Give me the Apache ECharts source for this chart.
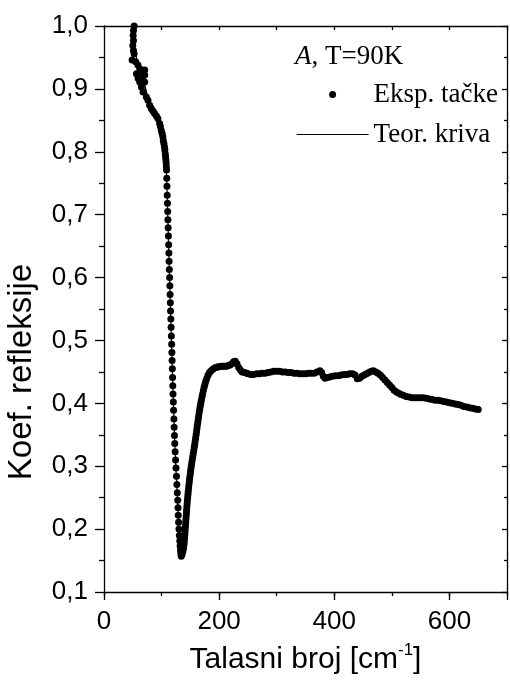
<!DOCTYPE html>
<html><head><meta charset="utf-8">
<script src="https://cdn.jsdelivr.net/npm/echarts@6/dist/echarts.min.js"></script>
<style>html,body{margin:0;padding:0;background:#fff}#c{width:510px;height:690px}</style>
</head><body><div id="c"></div>
<script>
// ---- data ----
const xTickLabels = [0, 200, 400, 600];
const yTickLabels = [0.1, 0.2, 0.3, 0.4, 0.5, 0.6, 0.7, 0.8, 0.9, 1.0];

// experimental points: top cluster
const expTop = [[52.3,1.0],[51.2,0.993],[50.6,0.985],[51.2,0.977],[50,0.969],[51.2,0.961],[52.3,0.956],[48.8,0.946],[55,0.943],[59,0.938],[62,0.932],[65,0.93],[67.8,0.927],[70.7,0.93],[56.4,0.924],[59.2,0.917],[66.7,0.919],[70.7,0.922],[62,0.911],[70.7,0.911],[65,0.903],[67.8,0.895],[73.6,0.887],[76.4,0.882],[79.3,0.874],[82,0.869],[85,0.865],[87.9,0.861],[91,0.857],[93.6,0.853],[96.6,0.845],[98,0.84],[99.5,0.834],[101,0.829],[102.2,0.824],[103,0.818],[104,0.813],[105,0.808],[105.7,0.803],[106.4,0.797],[106.9,0.792],[107.5,0.787],[108,0.782],[108.3,0.776],[108.6,0.771]];
// experimental points: steep fall
const expFall = [[109.0,0.758],[109.4,0.745],[109.8,0.731],[110.2,0.718],[110.6,0.705],[111.0,0.692],[111.4,0.679],[111.9,0.666],[112.3,0.652],[112.7,0.639],[113.1,0.626],[113.5,0.613],[114.0,0.600],[114.4,0.587],[114.8,0.573],[115.2,0.560],[115.6,0.547],[116.1,0.534],[116.5,0.521],[117.0,0.507],[117.5,0.494],[117.9,0.481],[118.3,0.468],[118.7,0.455],[119.1,0.441],[119.5,0.428],[119.9,0.415],[120.4,0.402],[120.9,0.389],[121.4,0.375],[121.9,0.362],[122.4,0.349],[122.9,0.336],[123.6,0.323],[124.3,0.310],[125.1,0.297],[125.9,0.284],[126.6,0.271],[127.3,0.258],[128.1,0.246],[128.6,0.234],[129.0,0.222],[129.6,0.211],[130.2,0.200],[130.9,0.190],[131.6,0.181],[132.2,0.173],[132.9,0.166],[133.5,0.161],[134.2,0.157]];
// experimental points: rise
const expRise = [[135.8,0.160],[137.2,0.165],[138.2,0.170],[138.9,0.175],[139.4,0.180],[139.9,0.185],[140.3,0.190],[140.7,0.195],[141.1,0.200],[141.5,0.205],[141.9,0.210],[142.3,0.215],[142.7,0.220],[143.1,0.225],[143.5,0.230],[143.9,0.235],[144.3,0.240],[144.8,0.245],[145.3,0.250],[145.8,0.255],[146.3,0.260],[146.9,0.265],[147.5,0.270],[148.1,0.275],[148.7,0.280],[149.4,0.285],[150.1,0.290],[150.8,0.295],[151.6,0.300],[152.4,0.305],[153.2,0.310],[154.1,0.315],[155.0,0.320],[155.9,0.325],[156.8,0.330],[157.6,0.335],[158.4,0.340],[159.2,0.345],[160.0,0.350],[160.7,0.355],[161.4,0.360],[162.1,0.365],[162.9,0.370],[163.7,0.375],[164.5,0.380],[165.3,0.385],[166.2,0.390],[167.1,0.395],[168.1,0.400],[169.1,0.405],[170.2,0.410],[171.3,0.415],[172.5,0.420],[173.8,0.425],[175.2,0.430],[176.8,0.435],[178.6,0.440],[180.8,0.445],[183.3,0.449],[186,0.452],[189,0.454],[192,0.456],[195,0.457],[198,0.458],[201,0.458],[204,0.459],[207,0.459],[210,0.459],[213,0.459],[216,0.460],[219,0.461],[222,0.463],[225,0.466],[228,0.467],[231,0.463],[234,0.457],[237,0.453],[240,0.450],[244,0.449],[248,0.448]];
// experimental points: plateau and tail
const expFlat = [[250,0.447],[255,0.446],[260,0.446],[265,0.447],[270,0.447],[275,0.448],[280,0.448],[285,0.449],[290,0.450],[295,0.451],[300,0.451],[305,0.451],[310,0.450],[315,0.450],[320,0.449],[325,0.449],[330,0.448],[335,0.448],[340,0.447],[345,0.447],[350,0.447],[355,0.448],[360,0.448],[365,0.448],[370,0.450],[375,0.452],[378,0.449],[381,0.443],[384,0.440],[388,0.441],[392,0.442],[397,0.443],[402,0.444],[407,0.444],[412,0.445],[417,0.446],[422,0.446],[427,0.447],[432,0.447],[436,0.445],[440,0.439],[444,0.440],[448,0.443],[452,0.445],[456,0.447],[460,0.449],[464,0.451],[468,0.452],[472,0.450],[476,0.448],[480,0.445],[484,0.441],[488,0.437],[492,0.433],[496,0.429],[500,0.425],[504,0.421],[508,0.418],[512,0.416],[516,0.414],[520,0.413],[525,0.411],[530,0.410],[535,0.409],[540,0.409],[545,0.409],[550,0.409],[555,0.409],[560,0.408],[565,0.407],[570,0.406],[575,0.405],[580,0.405],[585,0.404],[590,0.403],[595,0.402],[600,0.401],[605,0.400],[610,0.399],[615,0.398],[620,0.397],[625,0.395],[630,0.394],[635,0.393],[640,0.392],[645,0.391],[650,0.390]];

// theoretical curve
const theoryX = [50,55,60,65,70,75,80,85,90,95,100,104,107,109,111,113,115,117,119,121,123,125,127,129,131,133,134.5,136,138,140,142,145,148,152,157,162,167,172,177,183,190,200,210,220,226,230,236,246,260,280,303,332,355,372,380,386,398,418,433,441,452,467,482,496,513,539,560,585,614,648];
const theoryY = [0.99,0.955,0.935,0.925,0.91,0.89,0.875,0.862,0.852,0.843,0.83,0.813,0.79,0.755,0.692,0.628,0.565,0.503,0.445,0.39,0.335,0.295,0.26,0.222,0.19,0.166,0.157,0.161,0.17,0.187,0.212,0.245,0.274,0.303,0.331,0.365,0.395,0.418,0.436,0.449,0.455,0.458,0.459,0.461,0.464,0.463,0.455,0.449,0.447,0.449,0.45,0.448,0.447,0.449,0.446,0.441,0.443,0.445,0.447,0.441,0.445,0.448,0.442,0.427,0.414,0.408,0.407,0.403,0.397,0.389];

const seriesNames = ['Eksp. tačke', 'Teor. kriva'];
const panelLabel = 'T=90K';

// ---- chart ----
const SANS = "'Liberation Sans', Arial, sans-serif";
const SERIF = "'Liberation Serif', 'Times New Roman', serif";
const BLACK = '#000';
const axisLine = {show: true, onZero: false, lineStyle: {color: BLACK, width: 1.3}};
const tickLine = {color: BLACK, width: 1.3};

const expData = expTop.concat(expFall, expRise, expFlat);
const theoryData = theoryX.map((x, i) => [x, theoryY[i]]);

const chart = echarts.init(document.getElementById('c'), null, {renderer: 'canvas'});
chart.setOption({
  animation: false,
  backgroundColor: '#fff',
  grid: {left: 104, right: 1, top: 26, bottom: 98, containLabel: false},
  xAxis: [
    {type: 'value', position: 'bottom', min: 0, max: 700, interval: 200,
     axisLine: axisLine,
     axisTick: {show: true, inside: false, length: 8, lineStyle: tickLine},
     axisLabel: {margin: 17, fontFamily: SANS, fontSize: 26, color: BLACK,
                 formatter: v => xTickLabels.indexOf(v) >= 0 ? String(v) : ''},
     splitLine: {show: false},
     name: '{a|Talasni broj [cm}{s|-1}{a|]}', nameLocation: 'middle', nameGap: 50,
     nameTextStyle: {rich: {
       a: {fontFamily: SANS, fontSize: 30, lineHeight: 36, color: BLACK},
       s: {fontFamily: SANS, fontSize: 17, lineHeight: 16, verticalAlign: 'top', color: BLACK}
     }}},
    {type: 'value', position: 'bottom', min: 0, max: 700, interval: 100,
     axisLine: {show: false}, axisTick: {show: true, inside: false, length: 4, lineStyle: tickLine},
     axisLabel: {show: false}, splitLine: {show: false}},
    {type: 'value', position: 'top', min: 0, max: 700, interval: 100,
     axisLine: axisLine, axisTick: {show: true, inside: true, length: 4, lineStyle: tickLine},
     axisLabel: {show: false}, splitLine: {show: false}}
  ],
  yAxis: [
    {type: 'value', position: 'left', min: 0.1, max: 1.0, interval: 0.1,
     axisLine: axisLine,
     axisTick: {show: true, inside: false, length: 9, lineStyle: tickLine},
     minorTick: {show: true, splitNumber: 2, length: 5, lineStyle: tickLine},
     axisLabel: {margin: 16, fontFamily: SANS, fontSize: 26, color: BLACK,
                 formatter: v => { const r = Math.round(v * 10) / 10; return yTickLabels.indexOf(r) >= 0 ? r.toFixed(1).replace('.', ',') : ''; }},
     splitLine: {show: false}},
    {type: 'value', position: 'right', min: 0.1, max: 1.0, interval: 0.1,
     axisLine: axisLine,
     axisTick: {show: true, inside: true, length: 5, lineStyle: tickLine},
     minorTick: {show: true, splitNumber: 2, length: 3, lineStyle: tickLine},
     axisLabel: {show: false}, splitLine: {show: false}}
  ],
  legend: {
    show: true, orient: 'vertical', left: 296, top: 81, padding: 0, itemGap: 13,
    itemWidth: 72, itemHeight: 7,
    textStyle: {fontFamily: SERIF, fontSize: 27, color: BLACK},
    data: [
      {name: seriesNames[0], icon: 'circle', itemStyle: {color: BLACK, opacity: 1}},
      {name: seriesNames[1], itemStyle: {opacity: 0}, lineStyle: {color: BLACK, width: 1.2, opacity: 1}}
    ]
  },
  graphic: [
    {type: 'text', x: 22, y: 372, rotation: Math.PI / 2,
     style: {text: 'Koef. refleksije', font: "33px 'Liberation Sans', Arial, sans-serif", fill: BLACK, align: 'center', verticalAlign: 'middle'}},
    {type: 'text', x: 295, y: 57,
     style: {text: '{i|A}{n|, ' + panelLabel + '}', align: 'left', verticalAlign: 'middle',
             rich: {i: {fontFamily: SERIF, fontSize: 27, fontStyle: 'italic', fill: BLACK},
                    n: {fontFamily: SERIF, fontSize: 27, fill: BLACK}}}}
  ],
  series: [
    {name: seriesNames[0], type: 'scatter', xAxisIndex: 0, yAxisIndex: 0,
     symbol: 'circle', symbolSize: 7, itemStyle: {color: BLACK, opacity: 1}, data: expData, z: 2},
    {name: seriesNames[1], type: 'line', xAxisIndex: 0, yAxisIndex: 0,
     showSymbol: false, symbol: 'none', lineStyle: {color: BLACK, width: 1.2},
     itemStyle: {color: BLACK}, data: theoryData, z: 3}
  ]
});
</script></body></html>
